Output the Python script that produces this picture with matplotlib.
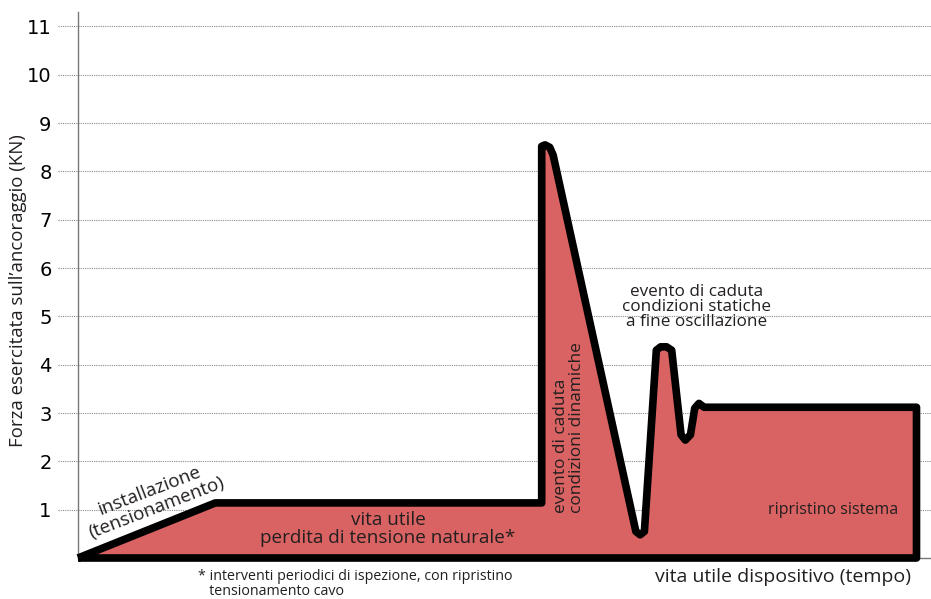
import matplotlib
matplotlib.use("Agg")
import matplotlib.pyplot as plt
import matplotlib.transforms as mtransforms

# data (time in arbitrary units, force in kN)
tempo = [0, 16.1, 54.36, 54.36, 54.75, 55.3, 55.7, 65.4, 65.9, 66.4, 67.8, 68.3, 69.0, 69.6,
         70.7, 71.2, 71.8, 72.3, 72.8, 73.4, 98.3, 98.3]
forza = [0, 1.14, 1.14, 8.52, 8.55, 8.5, 8.34, 0.55, 0.48, 0.55, 4.3, 4.37, 4.37, 4.3,
         2.55, 2.44, 2.55, 3.1, 3.2, 3.12, 3.12, 0]
y_ticks = [1, 2, 3, 4, 5, 6, 7, 8, 9, 10, 11]

TXT = "#231f20"
FILL = "#d96262"
plt.rcParams['font.family'] = ['Open Sans', 'DejaVu Sans']

fig = plt.figure(figsize=(9.31, 5.99), dpi=100)
ax = fig.add_axes([78/931, 41/599, 1 - 78/931, (558-12)/599])
ax.set_xlim(0, 100)
ax.set_ylim(0, 11.30)

# gridlines extended left to tick labels
trans = mtransforms.blended_transform_factory(ax.transAxes, ax.transData)
for v in y_ticks:
    ax.plot([-20/853, 1.0], [v, v], transform=trans, color="#8a8a8a", lw=0.8,
            ls=(0, (1, 1)), clip_on=False, zorder=1)

ax.fill(tempo, forza, color=FILL, zorder=2)
ax.plot(tempo + [tempo[0]], forza + [forza[0]], color="black", lw=5.5,
        solid_joinstyle="round", solid_capstyle="butt", zorder=3, clip_on=False)

ax.set_yticks(y_ticks)
ax.set_yticklabels([str(v) for v in y_ticks], family="DejaVu Sans", fontsize=14, color="black")
ax.tick_params(axis="y", length=0, pad=19)
ax.set_xticks([])
for s in ["top", "right"]:
    ax.spines[s].set_visible(False)
ax.spines["left"].set_color("#777777")
ax.spines["left"].set_linewidth(1.0)
ax.spines["bottom"].set_color("#777777")
ax.spines["bottom"].set_linewidth(1.0)

fig.text(18/931, 1 - 291/599, "Forza esercitata sull\u2019ancoraggio (KN)", rotation=90,
         ha="center", va="center", fontsize=13.4, color=TXT)

def px(x, y):
    return (x/931, 1 - y/599)

fig.text(*px(153, 499), "installazione\n(tensionamento)", rotation=21, ha="center", va="center",
         fontsize=13.5, color=TXT, linespacing=1.0, rotation_mode="anchor")
fig.text(*px(388, 529), "vita utile\nperdita di tensione naturale*", ha="center", va="center",
         fontsize=13.6, color=TXT, linespacing=1.0)
fig.text(*px(569, 428), "evento di caduta\ncondizioni dinamiche", rotation=90, ha="center",
         va="center", fontsize=12.4, color=TXT, linespacing=0.95, multialignment="left")
fig.text(*px(697, 307), "evento di caduta\ncondizioni statiche\na fine oscillazione", ha="center",
         va="center", fontsize=12.3, color=TXT, linespacing=0.95)
fig.text(*px(833, 510), "ripristino sistema", ha="center", va="center", fontsize=11.5, color=TXT)
fig.text(*px(783, 577), "vita utile dispositivo (tempo)", ha="center", va="center",
         fontsize=14, color=TXT)
fig.text(*px(198, 584), "* interventi periodici di ispezione, con ripristino\n   tensionamento cavo",
         ha="left", va="center", fontsize=10.3, color=TXT, linespacing=1.05)

fig.savefig("out.png", dpi=100)
